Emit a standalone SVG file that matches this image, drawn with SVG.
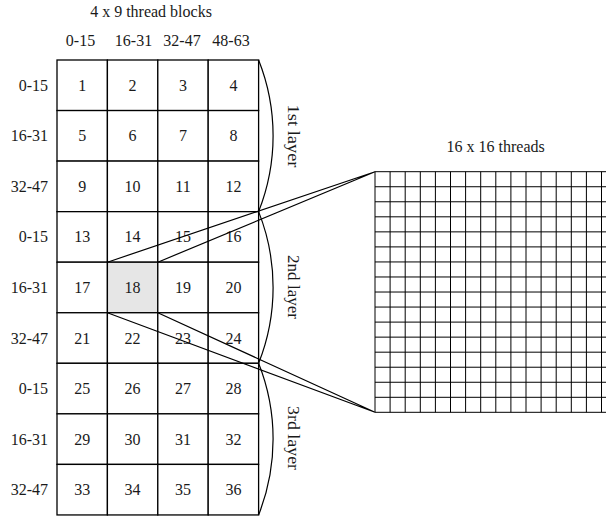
<svg xmlns="http://www.w3.org/2000/svg" width="606" height="516" viewBox="0 0 606 516">
<style>
text{font-family:"Liberation Serif","Times New Roman",serif;font-size:16px;fill:#1a1a1a}
.c{text-anchor:middle}
.r{text-anchor:end}
.cell{fill:#fff;stroke:#000;stroke-width:1.3}
.sel{fill:#e6e6e6}
.br{fill:none;stroke:#000;stroke-width:1.2}
.ln{fill:none;stroke:#000;stroke-width:1.2}
.tg{fill:none;stroke:#000;stroke-width:1}
</style>
<rect width="606" height="516" fill="#fff"/>
<g id="titles">
<text class="c" x="151" y="17">4 x 9  thread blocks</text>
<text class="c" x="80.5" y="45.5">0-15</text>
<text class="c" x="133.5" y="45.5">16-31</text>
<text class="c" x="182" y="45.5">32-47</text>
<text class="c" x="231" y="45.5">48-63</text>
<text class="r" x="48" y="90.8">0-15</text>
<text class="r" x="48" y="141.3">16-31</text>
<text class="r" x="48" y="191.9">32-47</text>
<text class="r" x="48" y="242.4">0-15</text>
<text class="r" x="48" y="293">16-31</text>
<text class="r" x="48" y="343.5">32-47</text>
<text class="r" x="48" y="394.1">0-15</text>
<text class="r" x="48" y="444.6">16-31</text>
<text class="r" x="48" y="495.2">32-47</text>
</g>
<g id="blocks">
<g id="cell-1"><rect class="cell" x="57" y="60" width="50.4" height="50.55"/><text class="c" x="82.2" y="90.8">1</text></g>
<g id="cell-2"><rect class="cell" x="107.4" y="60" width="50.4" height="50.55"/><text class="c" x="132.6" y="90.8">2</text></g>
<g id="cell-3"><rect class="cell" x="157.8" y="60" width="50.4" height="50.55"/><text class="c" x="183" y="90.8">3</text></g>
<g id="cell-4"><rect class="cell" x="208.2" y="60" width="50.4" height="50.55"/><text class="c" x="233.4" y="90.8">4</text></g>
<g id="cell-5"><rect class="cell" x="57" y="110.55" width="50.4" height="50.55"/><text class="c" x="82.2" y="141.3">5</text></g>
<g id="cell-6"><rect class="cell" x="107.4" y="110.55" width="50.4" height="50.55"/><text class="c" x="132.6" y="141.3">6</text></g>
<g id="cell-7"><rect class="cell" x="157.8" y="110.55" width="50.4" height="50.55"/><text class="c" x="183" y="141.3">7</text></g>
<g id="cell-8"><rect class="cell" x="208.2" y="110.55" width="50.4" height="50.55"/><text class="c" x="233.4" y="141.3">8</text></g>
<g id="cell-9"><rect class="cell" x="57" y="161.1" width="50.4" height="50.55"/><text class="c" x="82.2" y="191.9">9</text></g>
<g id="cell-10"><rect class="cell" x="107.4" y="161.1" width="50.4" height="50.55"/><text class="c" x="132.6" y="191.9">10</text></g>
<g id="cell-11"><rect class="cell" x="157.8" y="161.1" width="50.4" height="50.55"/><text class="c" x="183" y="191.9">11</text></g>
<g id="cell-12"><rect class="cell" x="208.2" y="161.1" width="50.4" height="50.55"/><text class="c" x="233.4" y="191.9">12</text></g>
<g id="cell-13"><rect class="cell" x="57" y="211.65" width="50.4" height="50.55"/><text class="c" x="82.2" y="242.4">13</text></g>
<g id="cell-14"><rect class="cell" x="107.4" y="211.65" width="50.4" height="50.55"/><text class="c" x="132.6" y="242.4">14</text></g>
<g id="cell-15"><rect class="cell" x="157.8" y="211.65" width="50.4" height="50.55"/><text class="c" x="183" y="242.4">15</text></g>
<g id="cell-16"><rect class="cell" x="208.2" y="211.65" width="50.4" height="50.55"/><text class="c" x="233.4" y="242.4">16</text></g>
<g id="cell-17"><rect class="cell" x="57" y="262.2" width="50.4" height="50.55"/><text class="c" x="82.2" y="293">17</text></g>
<g id="cell-18"><rect class="cell sel" x="107.4" y="262.2" width="50.4" height="50.55"/><text class="c" x="132.6" y="293">18</text></g>
<g id="cell-19"><rect class="cell" x="157.8" y="262.2" width="50.4" height="50.55"/><text class="c" x="183" y="293">19</text></g>
<g id="cell-20"><rect class="cell" x="208.2" y="262.2" width="50.4" height="50.55"/><text class="c" x="233.4" y="293">20</text></g>
<g id="cell-21"><rect class="cell" x="57" y="312.75" width="50.4" height="50.55"/><text class="c" x="82.2" y="343.5">21</text></g>
<g id="cell-22"><rect class="cell" x="107.4" y="312.75" width="50.4" height="50.55"/><text class="c" x="132.6" y="343.5">22</text></g>
<g id="cell-23"><rect class="cell" x="157.8" y="312.75" width="50.4" height="50.55"/><text class="c" x="183" y="343.5">23</text></g>
<g id="cell-24"><rect class="cell" x="208.2" y="312.75" width="50.4" height="50.55"/><text class="c" x="233.4" y="343.5">24</text></g>
<g id="cell-25"><rect class="cell" x="57" y="363.3" width="50.4" height="50.55"/><text class="c" x="82.2" y="394.1">25</text></g>
<g id="cell-26"><rect class="cell" x="107.4" y="363.3" width="50.4" height="50.55"/><text class="c" x="132.6" y="394.1">26</text></g>
<g id="cell-27"><rect class="cell" x="157.8" y="363.3" width="50.4" height="50.55"/><text class="c" x="183" y="394.1">27</text></g>
<g id="cell-28"><rect class="cell" x="208.2" y="363.3" width="50.4" height="50.55"/><text class="c" x="233.4" y="394.1">28</text></g>
<g id="cell-29"><rect class="cell" x="57" y="413.85" width="50.4" height="50.55"/><text class="c" x="82.2" y="444.6">29</text></g>
<g id="cell-30"><rect class="cell" x="107.4" y="413.85" width="50.4" height="50.55"/><text class="c" x="132.6" y="444.6">30</text></g>
<g id="cell-31"><rect class="cell" x="157.8" y="413.85" width="50.4" height="50.55"/><text class="c" x="183" y="444.6">31</text></g>
<g id="cell-32"><rect class="cell" x="208.2" y="413.85" width="50.4" height="50.55"/><text class="c" x="233.4" y="444.6">32</text></g>
<g id="cell-33"><rect class="cell" x="57" y="464.4" width="50.4" height="50.55"/><text class="c" x="82.2" y="495.2">33</text></g>
<g id="cell-34"><rect class="cell" x="107.4" y="464.4" width="50.4" height="50.55"/><text class="c" x="132.6" y="495.2">34</text></g>
<g id="cell-35"><rect class="cell" x="157.8" y="464.4" width="50.4" height="50.55"/><text class="c" x="183" y="495.2">35</text></g>
<g id="cell-36"><rect class="cell" x="208.2" y="464.4" width="50.4" height="50.55"/><text class="c" x="233.4" y="495.2">36</text></g>
</g>
<g id="layers">
<g id="layer-1"><path class="br" d="M258.6 60 A205.6 205.6 0 0 1 258.6 211.65"/><text class="c" transform="translate(288 136) rotate(90)" textLength="63" lengthAdjust="spacingAndGlyphs">1st layer</text></g>
<g id="layer-2"><path class="br" d="M258.6 211.65 A205.6 205.6 0 0 1 258.6 363.3"/><text class="c" transform="translate(288 287) rotate(90)" textLength="64" lengthAdjust="spacingAndGlyphs">2nd layer</text></g>
<g id="layer-3"><path class="br" d="M258.6 363.3 A205.6 205.6 0 0 1 258.6 514.95"/><text class="c" transform="translate(288 438) rotate(90)" textLength="64" lengthAdjust="spacingAndGlyphs">3rd layer</text></g>
</g>
<g id="threads">
<text class="c" x="495.7" y="151.5">16 x 16 threads</text>
<path class="tg" d="M375 171.7V412.3M390.1 171.7V412.3M405.2 171.7V412.3M420.3 171.7V412.3M435.4 171.7V412.3M450.5 171.7V412.3M465.6 171.7V412.3M480.7 171.7V412.3M495.8 171.7V412.3M510.9 171.7V412.3M526 171.7V412.3M541.1 171.7V412.3M556.2 171.7V412.3M571.3 171.7V412.3M586.4 171.7V412.3M601.5 171.7V412.3M616.6 171.7V412.3"/>
<path class="tg" d="M375 171.7H616.6M375 186.74H616.6M375 201.78H616.6M375 216.82H616.6M375 231.86H616.6M375 246.9H616.6M375 261.94H616.6M375 276.98H616.6M375 292.02H616.6M375 307.06H616.6M375 322.1H616.6M375 337.14H616.6M375 352.18H616.6M375 367.22H616.6M375 382.26H616.6M375 397.3H616.6M375 412.3H616.6"/>
</g>
<g id="connectors">
<path class="ln" d="M107.4 262.2L375 171.7M157.8 262.2L375 171.7M107.4 312.75L375 412.3M157.8 312.75L375 412.3"/>
</g>
</svg>
